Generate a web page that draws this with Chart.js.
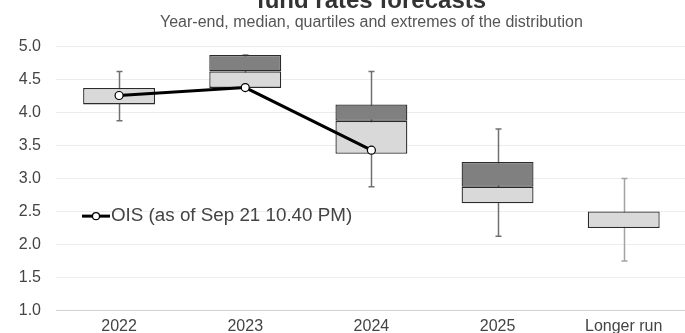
<!DOCTYPE html>
<html>
<head>
<meta charset="utf-8">
<script src="https://cdn.jsdelivr.net/npm/chart.js@4/dist/chart.umd.min.js"></script>
<style>
  html, body { margin: 0; padding: 0; background: #fff; overflow: hidden; width: 685px; height: 333px; }
  #wrap { position: absolute; left: 0; top: -14px; width: 692px; height: 349px; }
</style>
</head>
<body>
<div id="wrap"><canvas id="c" width="692" height="349"></canvas></div>
<script>
// Year-end projections: extremes, quartiles and median
const categories = ['2022', '2023', '2024', '2025', 'Longer run'];
const lows    = [3.875, 4.375, 2.875, 2.125, 1.75];
const q1      = [4.125, 4.375, 3.375, 2.625, 2.25];
const medians = [4.375, 4.625, 3.875, 2.875, 2.5];
const q3      = [4.375, 4.875, 4.125, 3.25, 2.5];
const highs   = [4.625, 4.875, 4.625, 3.75, 3.0];
// Market-implied path
const ois = [4.26, 4.38, 3.43, null, null];
const yTicks = [1.0, 1.5, 2.0, 2.5, 3.0, 3.5, 4.0, 4.5, 5.0];

const whiskerColors = ['#707070', '#707070', '#707070', '#707070', '#a3a3a3'];
const FONT = '"Liberation Sans", Arial, sans-serif';

// Whiskers drawn behind the boxes
const whiskerPlugin = {
  id: 'whiskers',
  beforeDatasetsDraw(chart) {
    const { ctx, scales: { x, y } } = chart;
    ctx.save();
    ctx.lineWidth = 1.5;
    categories.forEach((c, i) => {
      const px = Math.round(x.getPixelForValue(i)) + 0.5;
      const yl = y.getPixelForValue(lows[i]);
      const yh = y.getPixelForValue(highs[i]);
      ctx.strokeStyle = whiskerColors[i];
      ctx.beginPath();
      ctx.moveTo(px, yh); ctx.lineTo(px, yl);
      ctx.moveTo(px - 3, yh); ctx.lineTo(px + 3, yh);
      ctx.moveTo(px - 3, yl); ctx.lineTo(px + 3, yl);
      ctx.stroke();
    });
    ctx.restore();
  }
};

// Legend entry for the OIS line, placed inside the plot
const insideLegend = {
  id: 'insideLegend',
  afterDraw(chart) {
    const { ctx, scales: { x, y } } = chart;
    const ds = chart.data.datasets[2];
    const yy = y.getPixelForValue(2.43);
    const x0 = x.left + 26;
    ctx.save();
    ctx.strokeStyle = '#000';
    ctx.lineWidth = 3;
    ctx.beginPath(); ctx.moveTo(x0, yy); ctx.lineTo(x0 + 28, yy); ctx.stroke();
    ctx.fillStyle = '#fff';
    ctx.lineWidth = 1.2;
    ctx.beginPath(); ctx.arc(x0 + 14, yy, 3.5, 0, Math.PI * 2); ctx.fill(); ctx.stroke();
    ctx.fillStyle = '#444';
    ctx.font = '18.8px ' + FONT;
    ctx.textBaseline = 'middle';
    ctx.fillText(ds.label, x0 + 29, yy);
    ctx.restore();
  }
};

const boxCommon = {
  type: 'bar',
  borderColor: '#2b2b2b',
  borderWidth: 1.3,
  borderSkipped: false,
  barPercentage: 0.57,
  categoryPercentage: 1.0,
  grouped: false,
  order: 2
};

new Chart(document.getElementById('c'), {
  data: {
    labels: categories,
    datasets: [
      Object.assign({}, boxCommon, {
        label: 'Lower quartile to median',
        data: categories.map((c, i) => [q1[i], medians[i]]),
        backgroundColor: '#d9d9d9'
      }),
      Object.assign({}, boxCommon, {
        label: 'Median to upper quartile',
        data: categories.map((c, i) => [medians[i], q3[i]]),
        backgroundColor: '#808080'
      }),
      {
        type: 'line',
        label: 'OIS (as of Sep 21 10.40 PM)',
        data: ois,
        borderColor: '#000',
        borderWidth: 3,
        pointRadius: 4,
        pointBackgroundColor: '#fff',
        pointBorderColor: '#000',
        pointBorderWidth: 1.2,
        tension: 0,
        spanGaps: false,
        order: 0
      }
    ]
  },
  options: {
    responsive: false,
    animation: false,
    layout: { padding: { left: 0, right: 4, top: 0, bottom: 0 } },
    plugins: {
      legend: { display: false },
      tooltip: { enabled: false },
      title: {
        display: true,
        text: 'fund rates forecasts',
        fullSize: false,
        color: '#333',
        font: { family: FONT, size: 24, weight: 'bold', lineHeight: 1.0 },
        padding: { top: 3, bottom: 0 }
      },
      subtitle: {
        display: true,
        text: 'Year-end, median, quartiles and extremes of the distribution',
        fullSize: false,
        color: '#555',
        font: { family: FONT, size: 16, lineHeight: 1.2 },
        padding: { top: 0, bottom: 14.5 }
      }
    },
    scales: {
      x: {
        offset: true,
        grid: { display: false, drawTicks: false },
        border: { color: '#d0d0d0', width: 1 },
        ticks: { color: '#444', font: { family: FONT, size: 16 }, padding: 7 },
        afterFit(s) { s.height = 24.3; }
      },
      y: {
        min: 1.0,
        max: 5.0,
        afterBuildTicks(s) { s.ticks = yTicks.map(v => ({ value: v })); },
        grid: { color: '#ececec', lineWidth: 1, drawTicks: false },
        border: { display: false },
        ticks: {
          color: '#444',
          font: { family: FONT, size: 16 },
          padding: 15,
          callback: v => Number(v).toFixed(1)
        },
        afterFit(s) { s.width = 56; }
      }
    }
  },
  plugins: [whiskerPlugin, insideLegend]
});
</script>
</body>
</html>
